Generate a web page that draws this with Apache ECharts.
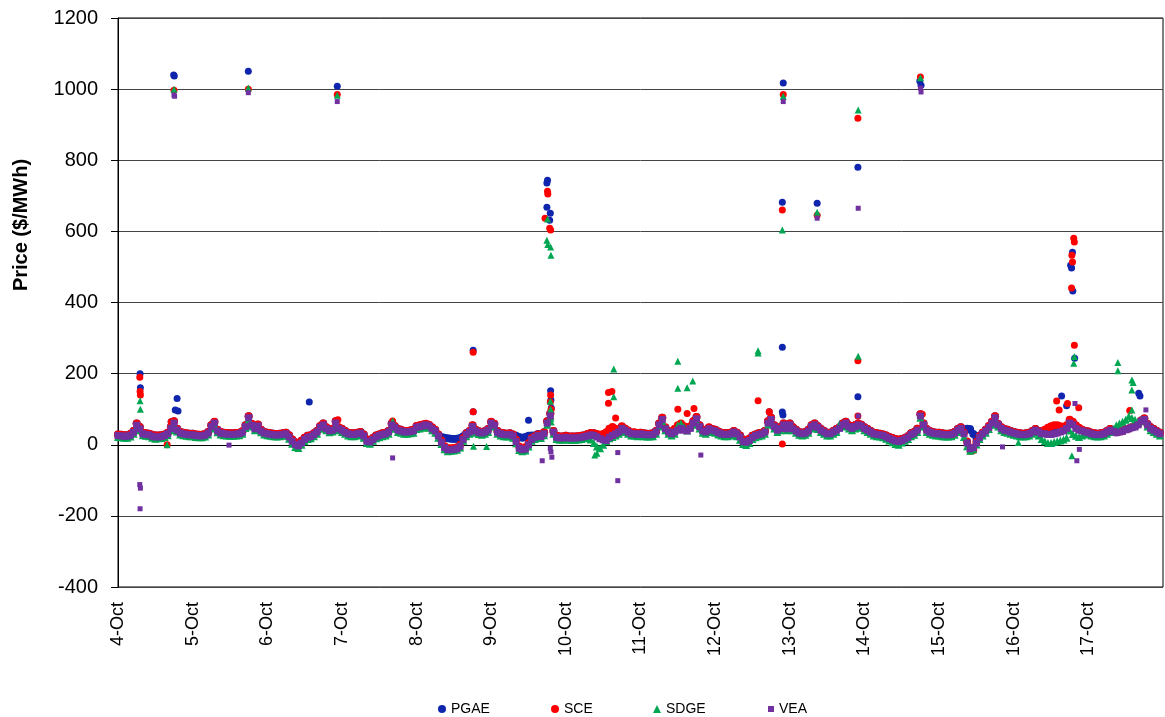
<!DOCTYPE html>
<html>
<head>
<meta charset="utf-8">
<script src="https://cdn.jsdelivr.net/npm/echarts@6/dist/echarts.min.js"></script>
<style>
  html, body { margin: 0; padding: 0; background: #fff; }
  #chart { width: 1165px; height: 717px; }
</style>
</head>
<body>
<div id="chart"></div>
<script>
// x axis: hours from 4-Oct 00:00, one tick per day
var dayLabels = ['4-Oct', '5-Oct', '6-Oct', '7-Oct', '8-Oct', '9-Oct', '10-Oct',
  '11-Oct', '12-Oct', '13-Oct', '14-Oct', '15-Oct', '16-Oct', '17-Oct']
var seriesNames = ['PGAE', 'SCE', 'SDGE', 'VEA']

// hourly prices ($/MWh), one row per day
var pgaeHourly = [
  29,28,27,27,30,39,60,50,34,32,31,28,26,26,27,29,34,50,66,45,36,34,32,31,
  31,29,28,28,30,36,55,64,42,36,34,33,32,32,33,34,38,55,80,58,48,56,42,36,
  34,32,31,30,31,32,34,27,15,7,4,11,20,25,27,32,39,52,60,48,42,45,66,48,
  44,39,34,32,32,34,36,29,15,13,19,26,29,32,34,39,60,52,44,42,39,39,40,42,
  52,54,56,58,55,48,40,28,22,20,18,17,16,17,19,24,32,38,54,42,38,36,39,44,
  64,58,39,34,32,31,32,29,25,22,20,22,25,26,26,30,28,35,66,88,39,25,23,23,
  25,23,23,23,24,25,27,30,33,32,28,26,28,32,40,45,42,40,50,45,39,34,34,32,
  34,32,31,31,32,39,60,76,48,39,35,42,50,55,50,44,50,66,78,55,42,39,48,44,
  42,37,34,32,32,34,39,34,26,15,13,17,25,29,32,34,39,66,76,55,45,50,60,49,
  60,49,42,36,34,36,42,55,60,52,44,39,34,34,39,44,49,60,65,55,49,55,60,56,
  49,44,39,34,32,31,29,26,22,19,16,14,16,19,24,32,36,45,86,60,44,39,36,34,
  34,32,31,31,32,36,44,49,40,45,42,30,20,25,34,42,52,64,80,58,49,44,42,39,
  36,34,32,31,32,34,39,44,39,37,40,45,48,50,50,48,48,52,68,62,52,46,42,39,
  37,34,32,31,32,34,39,44,39,35,37,39,44,46,49,52,58,68,74,58,49,44,39,34
]
var sceHourly = [
  29,28,27,27,30,39,60,50,34,32,31,28,26,26,27,29,34,50,66,45,36,34,32,31,
  31,29,28,28,30,36,55,65,42,36,34,33,32,32,33,34,38,55,80,59,49,57,42,36,
  34,32,31,30,31,32,34,27,15,7,4,11,20,25,27,32,39,53,60,49,42,45,66,49,
  45,39,34,32,32,34,36,29,15,13,19,26,29,32,34,39,60,53,44,42,39,39,40,42,
  53,55,57,59,56,49,42,29,12,-4,-10,-10,-9,-7,0,19,32,39,55,42,38,36,39,44,
  65,59,39,34,32,31,32,29,14,-5,-10,-7,4,19,24,29,27,35,66,88,39,25,23,23,
  25,23,23,23,24,25,27,30,33,32,30,28,30,35,45,50,45,42,52,46,40,35,35,33,
  34,32,31,31,32,39,60,76,49,39,35,45,55,60,52,45,52,66,78,55,42,39,49,44,
  42,37,34,32,32,34,39,34,26,15,13,17,25,29,32,34,39,66,76,55,45,50,60,49,
  60,49,42,36,34,36,42,55,60,52,44,39,34,34,39,44,49,60,65,55,49,55,60,56,
  49,44,39,34,32,31,29,26,22,19,16,14,16,19,24,32,36,45,86,60,44,39,36,34,
  34,32,31,31,32,36,44,49,34,9,-8,-15,8,24,34,42,53,65,80,58,49,44,42,39,
  36,34,32,31,32,34,39,44,39,37,42,48,52,55,55,52,50,55,70,65,55,48,42,39,
  37,34,32,31,32,34,39,44,39,35,37,39,44,46,49,52,58,68,74,58,49,44,39,34
]
var sdgeHourly = [
  22,21,20,20,23,31,51,41,27,25,24,20,17,18,19,22,27,41,56,37,29,27,25,24,
  24,22,21,21,23,29,46,56,35,29,27,26,25,25,26,27,31,47,71,51,41,49,35,29,
  27,25,24,23,24,25,27,17,3,-6,-9,0,10,16,18,24,31,45,51,41,35,37,56,41,
  36,31,26,24,24,26,28,20,5,3,11,18,21,24,26,31,51,45,36,34,31,31,32,34,
  44,46,48,51,48,41,34,20,2,-13,-18,-17,-16,-14,-8,11,24,31,47,34,30,28,31,36,
  56,51,31,26,24,23,24,20,4,-15,-18,-16,-5,11,16,21,19,27,56,76,31,16,14,14,
  16,14,14,14,15,16,18,19,15,5,-5,-10,0,10,18,22,26,31,41,36,31,26,26,24,
  26,24,23,23,24,31,51,66,41,31,26,31,55,60,50,40,50,56,68,46,34,31,41,36,
  34,29,26,24,24,26,31,24,14,2,-1,5,16,21,24,26,31,56,66,46,36,41,51,41,
  51,41,34,28,26,28,34,46,51,44,36,31,26,26,31,36,58,51,56,46,41,46,51,48,
  41,36,31,26,24,23,21,17,12,7,2,0,6,11,16,24,28,36,76,51,36,31,28,26,
  26,24,23,23,24,28,36,41,22,-4,-17,-13,1,16,26,34,44,56,71,51,41,36,34,31,
  28,26,24,23,24,26,31,36,26,16,10,5,5,8,10,12,15,20,40,30,25,22,26,31,
  29,26,24,23,24,26,31,36,45,55,60,65,70,80,75,70,65,70,66,51,41,36,31,26
]
var veaHourly = [
  26,25,24,24,27,35,55,45,31,29,28,24,22,22,23,26,31,46,61,41,33,31,29,28,
  28,26,25,25,27,33,51,61,39,33,31,30,29,29,30,31,35,51,76,55,45,53,39,33,
  31,29,28,27,28,29,31,22,10,1,-3,5,15,21,23,29,36,49,56,45,39,41,61,45,
  41,35,31,29,29,31,33,25,10,8,15,22,26,29,31,36,56,49,41,39,36,36,37,39,
  49,51,53,56,53,45,39,25,7,-8,-14,-14,-13,-11,-4,15,29,36,51,39,35,33,36,41,
  61,55,35,31,29,28,29,25,9,-10,-14,-12,0,15,21,26,23,31,61,81,36,21,19,19,
  21,19,19,19,20,21,23,25,28,26,22,17,14,12,21,26,31,36,46,41,36,31,31,29,
  31,29,28,28,29,36,56,71,45,36,31,36,41,46,41,39,46,61,73,51,39,36,45,41,
  39,34,31,29,29,31,36,31,22,9,7,12,21,26,29,31,36,61,71,51,41,46,56,45,
  56,45,39,33,31,33,39,51,56,49,41,36,31,31,36,41,46,56,61,51,46,51,56,53,
  46,41,36,31,29,28,26,22,18,14,11,9,12,16,21,29,33,41,81,56,41,36,33,31,
  31,29,28,28,29,33,41,46,31,5,-11,-8,5,21,31,39,49,61,76,56,46,41,39,36,
  33,31,29,28,29,31,36,41,36,31,31,29,29,31,33,36,39,46,61,56,46,41,39,36,
  34,31,29,28,29,31,36,41,38,34,36,38,42,45,48,50,56,66,71,56,46,41,36,31
]

// price spikes: [hour, $/MWh]
var pgaeSpikes = [[7.1,200],[7.2,160],[17.1,65],[17.9,1040],[18.1,1037],[18.4,98],[19.0,130],[19.3,95],
  [41.9,1050],[61.5,120],[70.5,1008],[114.2,266],[114.2,93],[132,69],[137.9,736],[138.1,744],
  [137.9,668],[139,651],[138.8,631],[139.1,152],[139.2,126],[139.3,103],[209.4,93],[213.6,274],
  [213.6,92],[213.8,84],[213.9,1017],[213.6,682],[224.8,679],[237.9,780],[237.9,135],[257.8,1023],
  [258.2,1011],[274,46],[303.4,137],[305,110],[306.9,541],[306.3,505],[306.6,497],[307,432],[307.6,243],
  [328.2,145],[328.6,137]]
var sceSpikes = [[7.0,190],[7.1,150],[7.2,140],[15.8,0],[17.1,65],[18.0,997],[41.9,1000],[70.5,985],
  [70.7,70],[88.3,67],[114.2,260],[114.2,93],[138.1,713],[138.2,705],[137.3,637],[138.8,609],
  [139.1,604],[139.1,140],[139,120],[139.3,100],[157.7,147],[158.8,150],[157.7,117],[160,75],
  [180,100],[183,88],[185.2,102],[205.8,124],[209.4,93],[213.6,2],[213.9,985],[213.6,660],
  [224.8,645],[237.9,918],[237.9,236],[237.9,81],[258,1034],[258.6,86],[274,-18],[301.8,123],
  [302.6,98],[305.3,116],[308.9,104],[307.3,581],[307.5,570],[306.7,533],[306.9,514],[306.6,441],
  [307.5,280],[325.3,96]]
var sdgeSpikes = [[7.1,124],[7.2,100],[15.8,0],[17.1,50],[18.0,1000],[41.9,1003],[70.5,983],[88.3,67],
  [114.3,-4],[118.5,-5],[138.1,635],[137.9,575],[138.2,563],[139.1,556],[139.2,533],[139,122],
  [139.1,100],[139.2,80],[139.3,64],[153.3,-29],[154,-24],[159.4,213],[159.4,135],[180,235],
  [180,159],[183,160],[184.8,179],[205.8,264],[205.8,258],[213.9,980],[213.6,604],[224.8,654],
  [238,941],[238,249],[258,1032],[289.5,6],[307.5,248],[307.3,229],[306.7,-31],[321.5,231],
  [321.5,208],[326,182],[326.4,175],[326,154],[326,98]]
var veaSpikes = [[7.0,-112],[7.2,-122],[7.1,-180],[18.0,983],[18.2,980],[35.7,-1],[41.9,990],[70.5,965],
  [88.3,-37],[136.4,-45],[139.5,-35],[139,-10],[139.2,-20],[160.7,-22],[160.7,-101],[187.4,-29],
  [213.9,965],[224.8,637],[238,665],[238,81],[258,1003],[258.2,992],[284.4,-6],[307.7,116],
  [308.3,-45],[309.1,-13],[330.5,98]]

var font = 'Liberation Sans, Arial, sans-serif'
var colors = ['#0f25ad', '#ff0000', '#00a651', '#7030a0']
var icons = ['circle', 'circle', 'triangle', 'rect']
var legendLeft = [433, 546, 648, 763]

function toPoints(hourly, spikes) {
  return hourly.map(function (v, i) { return [i, v] }).concat(spikes)
}

// dense hourly band drawn a bit bigger than the lone spike marks
function sizer(bandSize, spikeSize) {
  return function (val, params) { return params.dataIndex < 336 ? bandSize : spikeSize }
}

var myChart = echarts.init(document.getElementById('chart'))

var option = {
  animation: false,
  backgroundColor: '#fff',
  grid: { left: 118, right: 2, top: 18, bottom: 130, show: true, borderColor: '#000', borderWidth: 1 },
  // one legend per entry so the slots are evenly spaced like the original
  legend: seriesNames.map(function (name, i) {
    return {
      data: [{ name: name, icon: icons[i] }],
      left: legendLeft[i],
      top: 697,
      itemWidth: i === 3 ? 6 : 8,
      itemHeight: i === 3 ? 6 : 8,
      itemGap: 5,
      textStyle: { fontFamily: font, fontSize: 14, color: '#000' }
    }
  }),
  graphic: [{
    type: 'text',
    x: 21,
    y: 225,
    rotation: Math.PI / 2,
    style: {
      text: 'Price ($/MWh)',
      font: 'bold 20px ' + font,
      fill: '#000',
      align: 'center',
      verticalAlign: 'middle'
    }
  }],
  xAxis: {
    type: 'value',
    min: 0,
    max: 336,
    interval: 24,
    axisLine: { lineStyle: { color: '#000' } },
    axisTick: { show: false },
    splitLine: { show: false },
    axisLabel: {
      rotate: 90,
      margin: 15,
      fontFamily: font,
      fontSize: 18,
      color: '#000',
      showMaxLabel: false,
      formatter: function (v) { return dayLabels[v / 24] || '' }
    }
  },
  yAxis: {
    type: 'value',
    min: -400,
    max: 1200,
    interval: 200,
    axisLine: { show: true, lineStyle: { color: '#000' } },
    axisTick: { show: true, length: 7, lineStyle: { color: '#000' } },
    splitLine: { lineStyle: { color: '#444', width: 1 } },
    axisLabel: {
      margin: 20, fontFamily: font, fontSize: 20, color: '#000',
      formatter: function (v) { return String(v) }
    }
  },
  series: [
    { name: 'PGAE', type: 'scatter', symbol: 'circle', symbolSize: sizer(8, 7),
      itemStyle: { color: colors[0], opacity: 1 }, data: toPoints(pgaeHourly, pgaeSpikes) },
    { name: 'SCE', type: 'scatter', symbol: 'circle', symbolSize: sizer(8, 7),
      itemStyle: { color: colors[1], opacity: 1 }, data: toPoints(sceHourly, sceSpikes) },
    { name: 'SDGE', type: 'scatter', symbol: 'triangle', symbolSize: sizer(8, 7),
      itemStyle: { color: colors[2], opacity: 1 }, data: toPoints(sdgeHourly, sdgeSpikes) },
    { name: 'VEA', type: 'scatter', symbol: 'rect', symbolSize: sizer(7, 5),
      itemStyle: { color: colors[3], opacity: 1 }, data: toPoints(veaHourly, veaSpikes) }
  ]
}

myChart.setOption(option)
</script>
</body>
</html>
